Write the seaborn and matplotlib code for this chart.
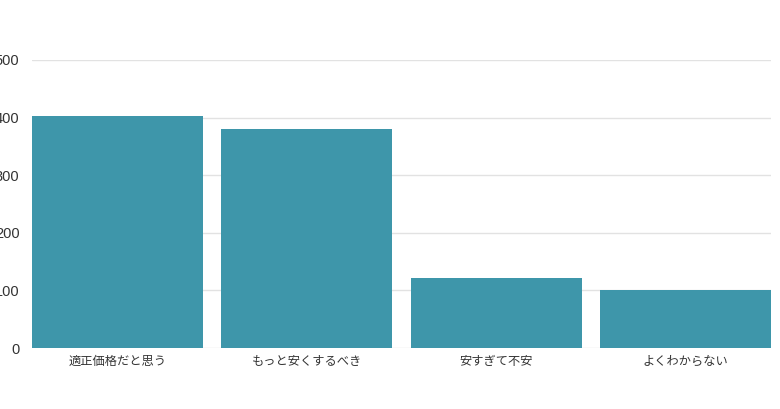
import matplotlib
matplotlib.use("Agg")
import matplotlib.pyplot as plt
import seaborn as sns
import pandas as pd

categories = ["適正価格だと思う", "もっと安くするべき", "安すぎて不安", "よくわからない"]
values = [403, 380, 121, 100]
yticks = [0, 100, 200, 300, 400, 500]

sns.set_theme(style="white")
plt.rcParams['font.family'] = ['Noto Sans CJK JP', 'DejaVu Sans']

df = pd.DataFrame({"cat": categories, "val": values})

fig = plt.figure(figsize=(7.8, 4.09), dpi=100)
ax = fig.add_axes([32/780, (409-348)/409, (771-32)/780, (348-60)/409])
sns.barplot(data=df, x="cat", y="val", color="#3e96aa", saturation=1, width=0.9,
            linewidth=0, edgecolor="none", ax=ax, zorder=3)
ax.set_xlim(-0.45, 3.45)
ax.set_ylim(0, 500)
ax.set_yticks(yticks)
ax.set_yticklabels([str(t) for t in yticks], family=['Liberation Sans', 'DejaVu Sans'])
ax.grid(axis="y", color="#e2e2e2", linewidth=1, zorder=0)
ax.set_axisbelow(True)
for s in ax.spines.values():
    s.set_visible(False)
ax.set_xlabel("")
ax.set_ylabel("")
ax.tick_params(axis="y", length=0, pad=9, labelsize=10.5, labelcolor="#333333")
ax.tick_params(axis="x", length=0, pad=5, labelsize=8.8, labelcolor="#333333")
fig.savefig("out.png", dpi=100)
